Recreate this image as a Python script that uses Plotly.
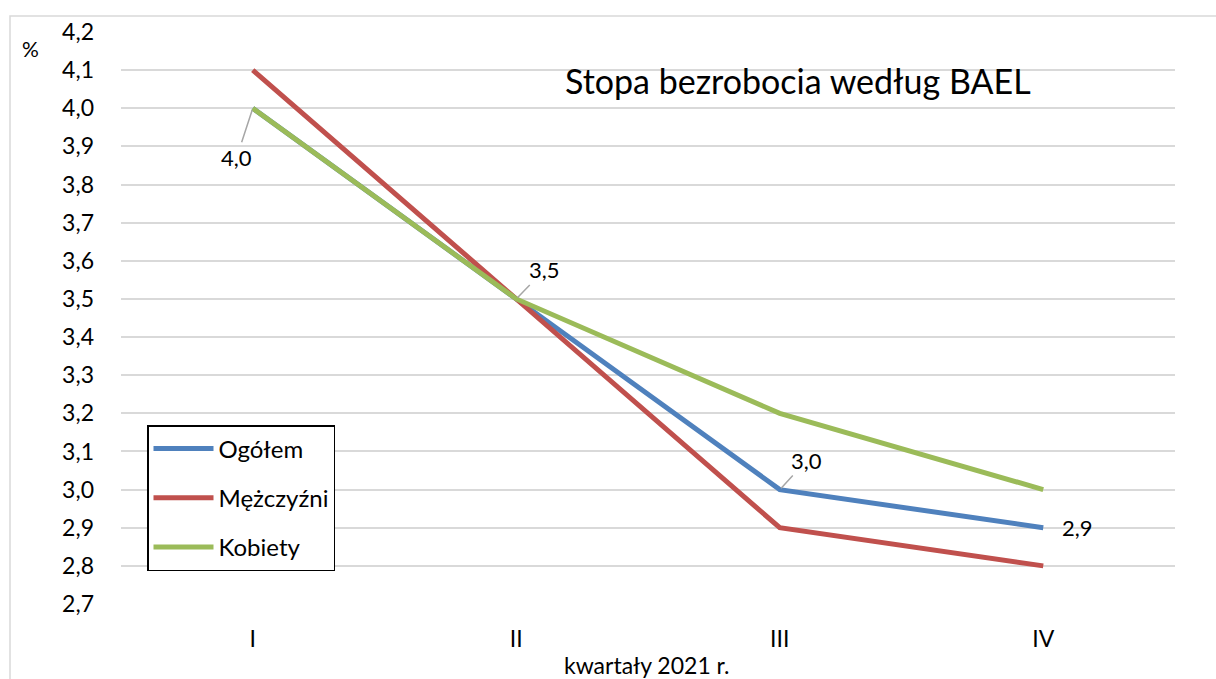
import plotly.graph_objects as go

categories = ["I", "II", "III", "IV"]
ogolem = [4.0, 3.5, 3.0, 2.9]
mezczyzni = [4.1, 3.5, 2.9, 2.8]
kobiety = [4.0, 3.5, 3.2, 3.0]
y_ticks = [2.7, 2.8, 2.9, 3.0, 3.1, 3.2, 3.3, 3.4, 3.5, 3.6, 3.7, 3.8, 3.9, 4.0, 4.1, 4.2]

FONT = "Lato"
W, H = 1216, 679
L, R, T, B = 121, 41, 32, 75
PW, PH = W - L - R, H - T - B

def px(x):
    return (x - L) / PW

def py(y):
    return (H - B - y) / PH

fig = go.Figure()
series = [("Ogółem", ogolem, "#4f81bd"), ("Mężczyźni", mezczyzni, "#c0504d"), ("Kobiety", kobiety, "#9bbb59")]
for i, (name, vals, col) in enumerate(series):
    fig.add_trace(go.Scatter(x=categories, y=vals, name=name, mode="lines",
                             line=dict(color=col, width=5), legendgroup=f"g{i}"))

# data labels for Ogółem
label_offsets = [(-16, 49, True), (28, -29, True), (27, -29, True), (None, None, False)]
for cat, v, (ax, ay, arrow) in zip(categories, ogolem, label_offsets):
    txt = f"{v:.1f}".replace(".", ",")
    if arrow:
        fig.add_annotation(x=cat, y=v, text=txt, showarrow=True, arrowhead=0, arrowwidth=1.5,
                           arrowcolor="#a6a6a6", ax=ax, ay=ay, standoff=2,
                           font=dict(family=FONT, size=22, color="#000"))
    else:
        fig.add_annotation(x=cat, y=v, text=txt, showarrow=False, xanchor="left", xshift=17,
                           font=dict(family=FONT, size=22, color="#000"))

fig.add_annotation(xref="paper", yref="paper", x=px(798), y=py(80), text="Stopa bezrobocia według BAEL",
                   showarrow=False, xanchor="center", yanchor="middle",
                   font=dict(family=FONT, size=34, color="#000"))
fig.add_annotation(xref="paper", yref="paper", x=px(30), y=py(48), text="%",
                   showarrow=False, xanchor="center", yanchor="middle",
                   font=dict(family=FONT, size=21, color="#000"))
fig.add_annotation(xref="paper", yref="paper", x=px(647), y=py(665), text="kwartały 2021 r.",
                   showarrow=False, xanchor="center", yanchor="middle",
                   font=dict(family=FONT, size=23, color="#000"))

# outer chart frame
fig.add_shape(type="rect", xref="paper", yref="paper", x0=px(10), x1=px(1230), y0=py(700), y1=py(16),
              line=dict(color="#d9d9d9", width=1.5), layer="below")

fig.update_layout(
    width=W, height=H,
    margin=dict(l=L, r=R, t=T, b=B),
    paper_bgcolor="white", plot_bgcolor="white",
    separators=",.",
    font=dict(family=FONT, size=22, color="#000"),
    showlegend=True,
    legend=dict(x=px(147), y=py(425), xanchor="left", yanchor="top",
                bordercolor="#000", borderwidth=1.5, bgcolor="white",
                font=dict(family=FONT, size=24, color="#000"),
                itemwidth=60,
                traceorder="grouped", tracegroupgap=15),
    xaxis=dict(type="category", range=[-0.5, 3.5], showgrid=False, showline=False, zeroline=False,
               ticks="", ticklabelstandoff=19, tickfont=dict(family=FONT, size=23)),
    yaxis=dict(range=[2.7, 4.2], tickvals=y_ticks, tickformat=".1f", showgrid=True,
               gridcolor="#d9d9d9", gridwidth=1.5, zeroline=False, showline=False, ticks="",
               ticklabelstandoff=26, tickfont=dict(family=FONT, size=23)),
)

fig.write_html("out.html", config={"displayModeBar": False},
               post_script="document.body.style.margin='0';document.body.style.overflow='hidden';")
